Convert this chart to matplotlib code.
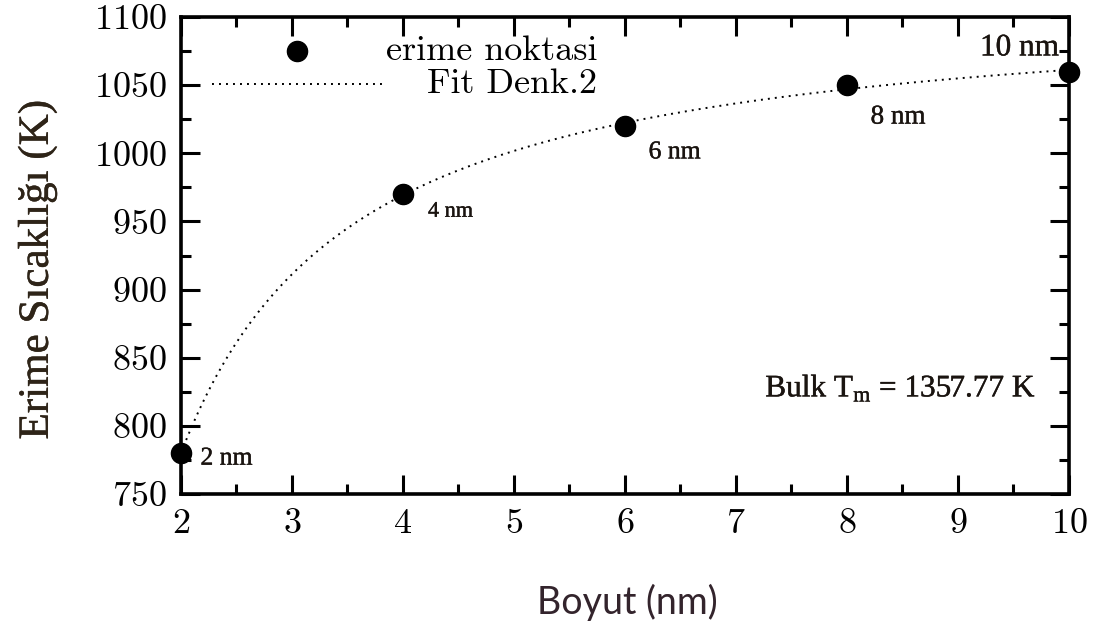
import numpy as np
import matplotlib
matplotlib.use('Agg')
import matplotlib.pyplot as plt
import matplotlib.patheffects as pe
from matplotlib.ticker import MultipleLocator

# melting point vs particle size
boyut = [2, 4, 6, 8, 10]
erime = [780, 970, 1020, 1050, 1060]
etiketler = ['2 nm', '4 nm', '6 nm', '8 nm', '10 nm']
bulk_tm = 1357.77

# fit curve: T = a + b/d + c/d^2
coef = np.polyfit(1.0 / np.array(boyut), erime, 2)
d_fit = np.linspace(2, 10, 300)
t_fit = np.polyval(coef, 1.0 / d_fit)

plt.rcParams['axes.formatter.use_mathtext'] = True
plt.rcParams['mathtext.fontset'] = 'custom'
plt.rcParams['mathtext.rm'] = 'Liberation Serif'

# slightly heavier strokes for the serif labels
kalin = [pe.withStroke(linewidth=0.3, foreground='#1a1410')]

fig = plt.figure(figsize=(11.05, 6.26), dpi=100)
ax = fig.add_axes([0.1638, 0.2109, 0.8036, 0.7619])

ax.plot(d_fit, t_fit, color='black', lw=1.4, ls=(0, (1, 2.6)))
ax.plot(boyut, erime, 'o', color='black', ms=14.5, clip_on=False, zorder=5)

ax.set_xlim(2, 10)
ax.set_ylim(750, 1100)
ax.xaxis.set_major_locator(MultipleLocator(1))
ax.xaxis.set_minor_locator(MultipleLocator(0.5))
ax.yaxis.set_major_locator(MultipleLocator(50))
ax.yaxis.set_minor_locator(MultipleLocator(25))
ax.tick_params(which='both', direction='in', top=True, right=True, width=2.2)
ax.tick_params(which='major', length=14, pad=10)
ax.tick_params(which='minor', length=7)
for s in ax.spines.values():
    s.set_linewidth(2.6)
for lab in ax.get_xticklabels() + ax.get_yticklabels():
    lab.set_fontfamily('cmr10')
    lab.set_fontsize(26)

# point labels
ofs = {'2 nm': (14, -4), '4 nm': (18, -13), '6 nm': (17, -19),
       '8 nm': (17, -23), '10 nm': (-7, 17)}
sizes = {'2 nm': 18.5, '4 nm': 16, '6 nm': 18.5, '8 nm': 19.5, '10 nm': 22.5}
for x, y, t in zip(boyut, erime, etiketler):
    dx, dy = ofs[t]
    ax.annotate(t, (x, y), xytext=(dx, dy), textcoords='offset points',
                ha='right' if dx < 0 else 'left', va='center',
                fontfamily='Liberation Serif', fontsize=sizes[t],
                color='#1a1410', path_effects=kalin)

ax.text(0.658, 0.222, r'Bulk T$_{\rm m}$ = 1357.77 K', transform=ax.transAxes,
        fontfamily='Liberation Serif', fontsize=22.5, color='#1a1410',
        ha='left', va='center', path_effects=kalin)

# legend drawn by hand
ax.plot([0.131], [0.929], 'o', color='black', ms=14.5, transform=ax.transAxes)
ax.plot([0.035, 0.23], [0.86, 0.86], color='black', lw=1.4, ls=(0, (1, 2.6)),
        transform=ax.transAxes)
ax.text(0.469, 0.929, 'erime noktasi', transform=ax.transAxes, ha='right',
        va='center', fontfamily='cmr10', fontsize=26)
ax.text(0.469, 0.86, 'Fit Denk.2', transform=ax.transAxes, ha='right',
        va='center', fontfamily='cmr10', fontsize=26)

fig.text(0.034, 0.569, 'Erime Sıcaklığı (K)', rotation=90, ha='center',
         va='center', fontfamily='Liberation Serif', fontsize=31,
         color='#2e2418',
         path_effects=[pe.withStroke(linewidth=0.3, foreground='#2e2418')])
fig.text(0.568, 0.037, 'Boyut (nm)', ha='center', va='center',
         fontfamily='Lato', fontsize=27, color='#33242c')

fig.savefig('out.png', dpi=100)
